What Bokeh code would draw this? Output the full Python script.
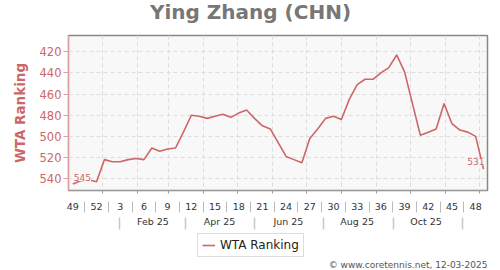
from datetime import date
from bokeh.plotting import figure
from bokeh.layouts import column
from bokeh.models import (Range1d, LinearAxis, FixedTicker, Legend, LegendItem,
                          Label, Grid, ColumnDataSource)
from bokeh.core.properties import value
from bokeh.embed import file_html
from bokeh.resources import INLINE

# ---------------- data ----------------
week_numbers = [49, 50, 51, 52, 1, 2, 3, 4, 5, 6, 7, 8, 9, 10, 11, 12, 13, 14, 15, 16,
                17, 18, 19, 20, 21, 22, 23, 24, 25, 26, 27, 28, 29, 30, 31, 32, 33, 34,
                35, 36, 37, 38, 39, 40, 41, 42, 43, 44, 45, 46, 47, 48, 49]
ranks = [545, 542, 541, 543, 522, 524, 524, 522, 521, 522, 511, 514, 512, 511, 496,
         480, 481, 483, 481, 479, 482, 478, 475, 483, 490, 493, 506, 519, 522, 525,
         502, 493, 483, 481, 484, 465, 451, 446, 446, 440, 435, 423, 439, 469, 499,
         496, 493, 469, 488, 494, 496, 500, 531]
y_ticks = [420, 440, 460, 480, 500, 520, 540]
month_labels = ["Feb 25", "Apr 25", "Jun 25", "Aug 25", "Oct 25"]
first_week_date = date(2024, 12, 6)

RED = "#cd6666"
BG = "#f8f8f8"
FONT = "DejaVu Sans"

x_idx = list(range(len(ranks)))

def pos(d):
    return round((d - first_week_date).days / 7.0, 3)

month_starts = [pos(date(2025, m, 1)) for m in range(1, 13)]
month_label_pos = [pos(date(2025, m, 15)) for m in (2, 4, 6, 8, 10)]
month_sep_pos = [pos(date(2025, m, 16)) for m in (1, 3, 5, 7, 9, 11)]
week_tick_pos = x_idx[::3]
week_sep_pos = [t + 1.5 for t in week_tick_pos[:-1]]

src = ColumnDataSource(dict(x=x_idx, rank=ranks))

def blank_fig(height):
    f = figure(width=500, height=height, output_backend="svg", toolbar_location=None,
               x_range=Range1d(0, 1), y_range=Range1d(0, 1),
               x_axis_location=None, y_axis_location=None,
               min_border_left=0, min_border_right=0, min_border_top=0,
               min_border_bottom=0, outline_line_color=None,
               background_fill_color="white", border_fill_color="white")
    f.grid.visible = False
    return f

# ---------------- header (title) ----------------
head = blank_fig(30)
head.add_layout(Label(x=182, y=18.5, x_units="screen", y_units="screen",
                      text="Ying Zhang (CHN)", text_align="center",
                      text_baseline="middle", text_font=FONT,
                      text_font_style="bold", text_font_size="20px",
                      text_color="#777777"))

# ---------------- main figure ----------------
p = figure(width=500, height=200, output_backend="svg", toolbar_location=None,
           x_range=Range1d(-0.55, 52.5), y_range=Range1d(551.2, 404.6),
           x_axis_location=None, y_axis_location=None,
           min_border_left=68, min_border_right=13, min_border_top=5,
           min_border_bottom=40,
           background_fill_color=BG, border_fill_color="white",
           outline_line_color="#888888", outline_line_width=1.5)
p.grid.visible = False

p.add_layout(Grid(dimension=0, ticker=FixedTicker(ticks=month_starts),
                  grid_line_color="#dddddd", grid_line_dash="4 3"))
p.add_layout(Grid(dimension=1, ticker=FixedTicker(ticks=y_ticks),
                  grid_line_color="#dddddd", grid_line_dash="4 3"))

def spacer(size):
    return LinearAxis(ticker=FixedTicker(ticks=[]), axis_line_color=None,
                      major_tick_line_color=None, minor_tick_line_color=None,
                      major_tick_out=size, major_tick_in=0, minor_tick_out=0,
                      minor_tick_in=0, major_label_standoff=0)

p.add_layout(spacer(5), "left")
yax = LinearAxis(ticker=FixedTicker(ticks=y_ticks), axis_label="WTA Ranking",
                 axis_line_color="#dca0a0", axis_line_width=1,
                 major_tick_line_color="#dca0a0", major_tick_out=5, major_tick_in=0,
                 minor_tick_line_color=None, major_label_standoff=2,
                 major_label_text_color=RED, major_label_text_font=FONT,
                 major_label_text_font_size="11.5px",
                 axis_label_text_color=RED, axis_label_text_font=FONT,
                 axis_label_text_font_style="bold", axis_label_text_font_size="13.5px",
                 axis_label_standoff=9)
p.add_layout(yax, "left")

p.add_layout(spacer(5), "below")
axA = LinearAxis(ticker=FixedTicker(ticks=week_tick_pos, minor_ticks=month_starts),
                 major_label_overrides={t: str(week_numbers[t]) for t in week_tick_pos},
                 axis_line_color="#999999", major_tick_line_color=None,
                 major_tick_out=0, major_tick_in=0,
                 minor_tick_line_color="#999999", minor_tick_out=3, minor_tick_in=0,
                 major_label_standoff=9, major_label_text_font=FONT,
                 major_label_text_font_size="9.5px", major_label_text_color="#333333")
p.add_layout(axA, "below")
axB = LinearAxis(ticker=FixedTicker(ticks=month_label_pos, minor_ticks=week_sep_pos),
                 major_label_overrides={t: l for t, l in zip(month_label_pos, month_labels)},
                 axis_line_color=None, major_tick_line_color=None,
                 major_tick_out=0, major_tick_in=0,
                 minor_tick_line_color="#bbbbbb", minor_tick_in=11, minor_tick_out=0,
                 major_label_standoff=3, major_label_text_font=FONT,
                 major_label_text_font_size="9.5px", major_label_text_color="#333333")
p.add_layout(axB, "below")
axC = LinearAxis(ticker=FixedTicker(ticks=month_sep_pos),
                 major_label_overrides={t: "" for t in month_sep_pos},
                 axis_line_color=None, major_tick_line_color="#c8c8c8",
                 major_tick_line_width=1.5, major_tick_out=0, major_tick_in=12,
                 minor_tick_line_color=None, major_label_standoff=0,
                 major_label_text_font_size="1px")
p.add_layout(axC, "below")

r = p.line(x="x", y="rank", source=src, line_color=RED, line_width=1.6)

lab_first = ColumnDataSource(dict(x=[x_idx[0]], y=[ranks[0]], t=[str(ranks[0])]))
lab_last = ColumnDataSource(dict(x=[x_idx[-1]], y=[ranks[-1]], t=[str(ranks[-1])]))
p.text(x="x", y="y", text="t", source=lab_first, text_align="left",
       text_baseline="bottom", x_offset=1, y_offset=-3,
       text_font=value(FONT), text_font_size="9px", text_color=RED,
       background_fill_color=BG)
p.text(x="x", y="y", text="t", source=lab_last, text_align="right",
       text_baseline="bottom", x_offset=1, y_offset=-4,
       text_font=value(FONT), text_font_size="9px", text_color=RED,
       background_fill_color=BG)

# ---------------- footer (legend + credit) ----------------
foot = blank_fig(40)
lr = foot.line(x="x", y="rank", source=src, line_color=RED, line_width=1.6)
legend = Legend(items=[LegendItem(label="WTA Ranking", renderers=[lr])],
                location=(129, 13.5), margin=0, padding=4, glyph_width=13,
                glyph_height=12, label_height=12, label_standoff=5,
                label_text_font=FONT, label_text_font_size="12px",
                label_text_color="#222222", border_line_color="#bbbbbb",
                background_fill_color="white", background_fill_alpha=1)
foot.add_layout(legend)
foot.add_layout(Label(x=419, y=6, x_units="screen", y_units="screen",
                      text="\u00a9 www.coretennis.net, 12-03-2025", text_align="right",
                      text_baseline="middle", text_font=FONT, text_font_size="9px",
                      text_color="#555555"))

page = column(head, p, foot, spacing=0)
open("out.html", "w").write(file_html(page, INLINE))
